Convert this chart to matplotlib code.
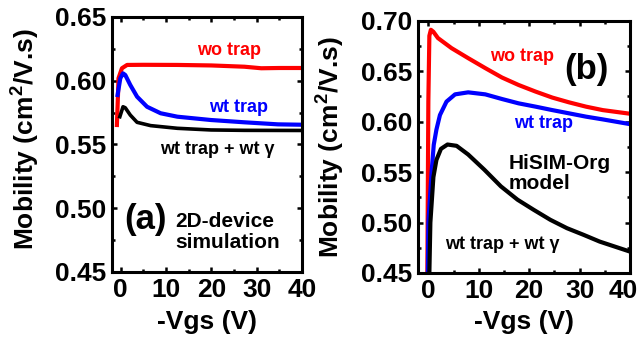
import numpy as np
import matplotlib
matplotlib.use('Agg')
import matplotlib.pyplot as plt
from matplotlib.ticker import MultipleLocator
from matplotlib.transforms import ScaledTranslation

plt.rcParams['font.family'] = ['Liberation Sans', 'DejaVu Sans']
plt.rcParams['font.weight'] = 'bold'
plt.rcParams['mathtext.fontset'] = 'custom'
plt.rcParams['mathtext.rm'] = 'Liberation Sans'
plt.rcParams['mathtext.bf'] = 'Liberation Sans:bold'

# (a) 2D-device simulation
a_red_x = [-0.85, -0.6, -0.5, 0.26, 1.4, 5, 12.5, 20, 27.3, 31, 35, 40]
a_red_y = [0.5653, 0.59, 0.6019, 0.6098, 0.6124, 0.6125, 0.6124, 0.6120, 0.6110, 0.6098, 0.6100, 0.6100]
a_blue_x = [-0.7, -0.1, 0.5, 1.0, 2.1, 3.6, 5.8, 8.8, 12.5, 19.9, 27.3, 34.7, 40]
a_blue_y = [0.5888, 0.6019, 0.6058, 0.6045, 0.5967, 0.5875, 0.5796, 0.5745, 0.5718, 0.5692, 0.5674, 0.5658, 0.5655]
a_blk_x = [-0.2, 0.5, 1.0, 2.1, 3.6, 6.6, 12.5, 19.9, 27.3, 40]
a_blk_y = [0.5718, 0.5796, 0.5788, 0.5731, 0.5674, 0.5648, 0.5627, 0.5614, 0.5611, 0.5610]

# (b) HiSIM-Org model
b_red_x = [-0.2, 0.0, 0.2, 0.5, 1.0, 1.9, 4.6, 7.9, 11.3, 14.6, 17.9, 21.3, 24.6, 27.9, 31.3, 34.6, 40]
b_red_y = [0.45, 0.62, 0.685, 0.691, 0.689, 0.6828, 0.6728, 0.6629, 0.653, 0.6437, 0.6363, 0.6297,
           0.6238, 0.6191, 0.6148, 0.6114, 0.6078]
b_blue_x = [-0.1, 0.0, 0.3, 0.66, 1.07, 1.6, 2.3, 3.6, 5.3, 7.9, 11.3, 14.6, 17.9, 21.3, 24.6, 27.9, 31.3, 34.6, 40]
b_blue_y = [0.45, 0.50, 0.523, 0.551, 0.577, 0.592, 0.6065, 0.6198, 0.627, 0.629, 0.627, 0.6224, 0.6181,
            0.6148, 0.6114, 0.6082, 0.6049, 0.6022, 0.5975]
b_blk_x = [0.2, 0.4, 1.0, 1.6, 2.5, 3.8, 5.6, 7.9, 11.1, 14.4, 17.7, 20.9, 24.2, 27.5, 30.8, 34, 40]
b_blk_y = [0.45, 0.50, 0.545, 0.562, 0.573, 0.5773, 0.576, 0.5674, 0.5524, 0.5358, 0.5226, 0.5126,
           0.5027, 0.4944, 0.4878, 0.4811, 0.4712]

fig = plt.figure(figsize=(6.43, 3.42), dpi=100)
ax1 = fig.add_axes([0.1737, 0.2047, 0.296, 0.7456])
ax2 = fig.add_axes([0.6505, 0.2018, 0.3292, 0.7377])


def style(ax, ylim, ystep):
    ax.set_xlim(-2, 40)
    ax.set_ylim(*ylim)
    ax.xaxis.set_major_locator(MultipleLocator(10))
    ax.xaxis.set_minor_locator(MultipleLocator(5))
    ax.yaxis.set_major_locator(MultipleLocator(ystep))
    ax.yaxis.set_minor_locator(MultipleLocator(ystep / 2))
    ax.yaxis.set_major_formatter(matplotlib.ticker.FormatStrFormatter('%.2f'))
    for s in ax.spines.values():
        s.set_linewidth(2.2)
    ax.tick_params(which='both', direction='in', top=True, right=True, width=1.8)
    ax.tick_params(which='major', length=3.6, labelsize=19, pad=4)
    ax.tick_params(which='minor', length=2.5)
    for lab in ax.get_xticklabels() + ax.get_yticklabels():
        lab.set_fontweight('bold')
    ax.set_xlabel('-Vgs (V)', fontsize=19, fontweight='bold')
    ax.set_ylabel(r'Mobility (cm$^{\mathbf{2}}$/V.s)', fontsize=19, fontweight='bold')


# panel a
ax1.plot(a_red_x, a_red_y, color='#ff0000', lw=3)
ax1.plot(a_blue_x, a_blue_y, color='#0000ff', lw=3)
ax1.plot(a_blk_x, a_blk_y, color='black', lw=2.6)
style(ax1, (0.45, 0.65), 0.05)
ax1.xaxis.set_label_coords(0.5, -0.15)
ax1.yaxis.set_label_coords(-0.37, 0.52)
ax1.text(23.9, 0.6241, 'wo trap', color='#ff0000', fontsize=13, fontweight='bold', ha='center', va='center')
ax1.text(25.9, 0.5794, 'wt trap', color='#0000ff', fontsize=13, fontweight='bold', ha='center', va='center')
ax1.text(21.4, 0.5457, 'wt trap + wt γ', color='black', fontsize=13, fontweight='bold', ha='center', va='center')
ax1.text(5.4, 0.4908, '(a)', fontsize=25, fontweight='bold', ha='center', va='center')
ax1.text(12.1, 0.4814, '2D-device\nsimulation', fontsize=15, fontweight='bold',
         ha='left', va='center', linespacing=1.1)

# panel b
ax2.plot(b_red_x, b_red_y, color='#ff0000', lw=3)
ax2.plot(b_blue_x, b_blue_y, color='#0000ff', lw=3)
ax2.plot(b_blk_x, b_blk_y, color='black', lw=3)
style(ax2, (0.45, 0.70), 0.05)
ax2.xaxis.set_label_coords(0.5, -0.147)
ax2.yaxis.set_label_coords(-0.34, 0.5)
ax2.text(18.6, 0.6646, 'wo trap', color='#ff0000', fontsize=13, fontweight='bold', ha='center', va='center')
ax2.text(31.3, 0.6512, '(b)', fontsize=25, fontweight='bold', ha='center', va='center')
ax2.text(22.9, 0.5982, 'wt trap', color='#0000ff', fontsize=13, fontweight='bold', ha='center', va='center')
ax2.text(16.0, 0.5485, 'HiSIM-Org\nmodel', fontsize=15, fontweight='bold',
         ha='left', va='center', linespacing=1.1)
ax2.text(14.7, 0.4785, 'wt trap + wt γ', color='black', fontsize=13, fontweight='bold', ha='center', va='center')

# the "40" label of panel b sits a little left of the spine in the original
last = ax2.get_xticklabels()[-1]
for lab in ax2.get_xticklabels():
    if lab.get_position()[0] == 40:
        last = lab
last.set_transform(last.get_transform() + ScaledTranslation(-0.07, 0, fig.dpi_scale_trans))

fig.savefig('out.png', dpi=100)
